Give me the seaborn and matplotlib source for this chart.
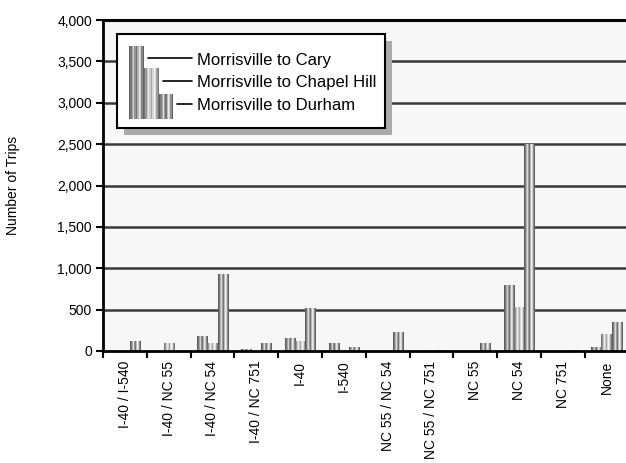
import numpy as np
import pandas as pd
import matplotlib
matplotlib.use("Agg")
import matplotlib.pyplot as plt
from matplotlib.patches import Rectangle
from matplotlib.ticker import FuncFormatter, MultipleLocator
import seaborn as sns

# Trip counts by route, one list per origin/destination pair
routes = ["I-40 / I-540", "I-40 / NC 55", "I-40 / NC 54", "I-40 / NC 751", "I-40",
          "I-540", "NC 55 / NC 54", "NC 55 / NC 751", "NC 55", "NC 54", "NC 751", "None"]
series = ["Morrisville to Cary", "Morrisville to Chapel Hill", "Morrisville to Durham"]
to_cary = [0, 0, 170, 15, 150, 85, 0, 0, 0, 790, 0, 40]
to_chapel_hill = [0, 90, 85, 0, 110, 0, 0, 10, 0, 530, 0, 195]
to_durham = [110, 0, 920, 85, 510, 38, 220, 10, 90, 2500, 10, 350]
y_ticks = [0, 500, 1000, 1500, 2000, 2500, 3000, 3500, 4000]

df = pd.DataFrame({
    "route": routes * 3,
    "trips": to_cary + to_chapel_hill + to_durham,
    "pair": [series[0]] * len(routes) + [series[1]] * len(routes) + [series[2]] * len(routes),
})

sns.set_style("white")
plt.rcParams["font.family"] = ["Liberation Sans", "DejaVu Sans"]

W, H = 626, 463
fig = plt.figure(figsize=(W / 100, H / 100), dpi=100)
fig.patch.set_facecolor("white")


def px_box(x0, y0, x1, y1):
    """Figure-fraction rectangle from pixel corners (origin top-left)."""
    return [x0 / W, 1 - y1 / H, (x1 - x0) / W, (y1 - y0) / H]


ax = fig.add_axes(px_box(103, 20, 628.5, 351))
ax.set_facecolor("#f7f7f7")

sns.barplot(data=df, x="route", y="trips", hue="pair", order=routes,
            hue_order=series, palette=["#888888"] * 3, width=0.7,
            saturation=1, legend=False, ax=ax)

# Cylinder-style shading stripes for each bar
shades = [
    [0.36, 0.48, 0.64, 0.82, 0.58, 0.44, 0.70, 0.90, 0.80, 0.52, 0.38],
    [0.45, 0.60, 0.78, 0.92, 0.80, 0.66, 0.84, 0.95, 0.86, 0.62, 0.46],
    [0.36, 0.50, 0.68, 0.86, 0.62, 0.46, 0.74, 0.92, 0.82, 0.56, 0.38],
]
for k, cont in enumerate(ax.containers):
    stripe = np.array(shades[k])[None, :]
    for bar in cont.patches:
        h = bar.get_height()
        bar.set_visible(False)
        if h <= 0:
            continue
        x0 = bar.get_x()
        ax.imshow(stripe, cmap="gray", vmin=0, vmax=1, aspect="auto",
                  interpolation="nearest",
                  extent=(x0, x0 + bar.get_width(), 0, h), zorder=3)

ax.set_xlim(-0.5, len(routes) - 0.5)
ax.set_ylim(0, 4000)
ax.set_aspect("auto")

# Horizontal gridlines
for v in y_ticks[1:-1]:
    ax.axhline(v, color="#3a3a3a", lw=1.8, zorder=1)
ax.axhline(4000, color="black", lw=2.2, zorder=1, clip_on=False)

for s in ["top", "right"]:
    ax.spines[s].set_visible(False)
for s in ["left", "bottom"]:
    ax.spines[s].set_color("black")
    ax.spines[s].set_linewidth(2.0)
    ax.spines[s].set_zorder(5)

ax.yaxis.set_major_locator(MultipleLocator(500))
ax.yaxis.set_major_formatter(FuncFormatter(lambda v, p: f"{int(v):,}"))
ax.tick_params(axis="y", direction="out", length=5, width=1.5, color="black",
               labelsize=10, labelcolor="black", pad=3, left=True)

ax.set_xticks(range(len(routes)))
ax.set_xticklabels(routes, rotation=90, fontsize=10, color="black")
ax.tick_params(axis="x", which="major", length=0, pad=7)
ax.set_xticks(np.arange(-0.5, len(routes) - 0.5, 1.0), minor=True)
ax.tick_params(axis="x", which="minor", direction="out", length=5, width=1.5,
               color="black", bottom=True)

ax.set_xlabel("")
ax.set_ylabel("Number of Trips", fontsize=10, color="black", labelpad=27)

# Legend panel with drop shadow and stepped cylinder swatches
lg = fig.add_axes(px_box(0, 0, W, H), zorder=10)
lg.set_xlim(0, W)
lg.set_ylim(H, 0)
lg.axis("off")
lg.add_patch(Rectangle((124, 41), 268, 94, facecolor="#ababab", edgecolor="none"))
lg.add_patch(Rectangle((117, 34), 268, 94, facecolor="white", edgecolor="black", lw=1.5))

swatches = [(129, 144, 46), (144, 159, 68), (159, 173, 94)]
text_y = [60, 83, 106]
line_x0 = [148, 163, 177]
for k, name in enumerate(series):
    sx0, sx1, top = swatches[k]
    lg.imshow(np.array(shades[k])[None, :], cmap="gray", vmin=0, vmax=1,
              aspect="auto", interpolation="nearest",
              extent=(sx0, sx1, 119, top), zorder=3)
    lg.plot([line_x0[k], 192], [text_y[k] - 2, text_y[k] - 2], color="black", lw=1.2)
    lg.text(197, text_y[k], name, fontsize=12, va="center", ha="left", color="black")
lg.set_xlim(0, W)
lg.set_ylim(H, 0)

fig.savefig("out.png", dpi=100, facecolor="white")
